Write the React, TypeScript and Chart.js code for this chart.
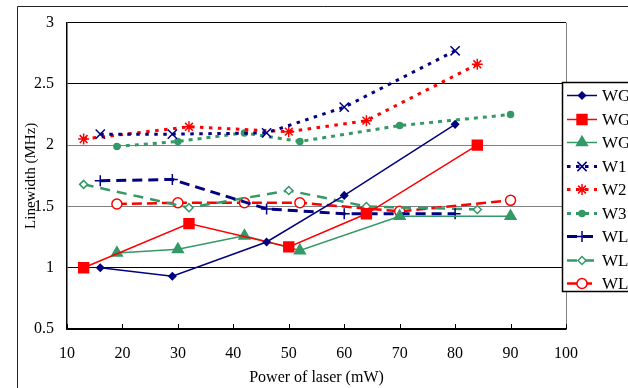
import React, { useEffect, useRef } from "react";
import { Chart, registerables } from "chart.js";
import { drawPoint } from "chart.js/helpers";

Chart.register(...registerables);

const xTicks = [10, 20, 30, 40, 50, 60, 70, 80, 90, 100];

const wg1X = [16, 29, 46, 60, 80];
const wg1Y = [1.0, 0.93, 1.21, 1.59, 2.17];
const wg2X = [13, 32, 50, 64, 84];
const wg2Y = [1.0, 1.36, 1.17, 1.44, 2.0];
const wg3X = [19, 30, 42, 52, 70, 90];
const wg3Y = [1.12, 1.15, 1.26, 1.14, 1.42, 1.42];
const w1X = [16, 29, 46, 60, 80];
const w1Y = [2.09, 2.09, 2.1, 2.31, 2.77];
const w2X = [13, 32, 50, 64, 84];
const w2Y = [2.05, 2.15, 2.11, 2.2, 2.66];
const w3X = [19, 30, 42, 52, 70, 90];
const w3Y = [1.99, 2.03, 2.1, 2.03, 2.16, 2.25];
const wl1X = [16, 29, 46, 60, 80];
const wl1Y = [1.71, 1.72, 1.48, 1.44, 1.44];
const wl2X = [13, 32, 50, 64, 84];
const wl2Y = [1.68, 1.49, 1.63, 1.5, 1.475];
const wl3X = [19, 30, 42, 52, 70, 90];
const wl3Y = [1.52, 1.53, 1.53, 1.53, 1.46, 1.55];

const NAVY = "#000080";
const RED = "#FF0000";
const GREEN = "#339966";
const FONT = "'Liberation Serif', 'Times New Roman', serif";

const pts = (xs: number[], ys: number[]) => xs.map((x, i) => ({ x, y: ys[i] }));

function ds(label: string, xs: number[], ys: number[], color: string, opts: any) {
  return {
    label,
    data: pts(xs, ys),
    borderColor: color,
    backgroundColor: color,
    pointBorderColor: color,
    pointBackgroundColor: opts.fill === false ? "#fff" : color,
    borderWidth: opts.width ?? 1.5,
    borderDash: opts.dash ?? [],
    pointStyle: opts.style,
    pointRadius: opts.r,
    pointBorderWidth: opts.pbw ?? 1.5,
    pointHoverRadius: opts.r,
    tension: 0,
    fill: false,
  };
}

const legendPlugin = {
  id: "customLegendFrame",
  afterDraw(chart: any) {
    const ctx = chart.ctx;
    const area = chart.chartArea;
    const xs = chart.scales.x;
    ctx.save();
    // right border
    ctx.strokeStyle = "#808080";
    ctx.lineWidth = 1;
    ctx.beginPath();
    ctx.moveTo(area.right + 0.5, area.top);
    ctx.lineTo(area.right + 0.5, area.bottom);
    ctx.stroke();
    // inward x ticks
    ctx.strokeStyle = "#000";
    ctx.beginPath();
    for (const v of xTicks) {
      const px = Math.round(xs.getPixelForValue(v)) + 0.5;
      ctx.moveTo(px, area.bottom);
      ctx.lineTo(px, area.bottom - 5);
    }
    ctx.stroke();
    // outer frame
    ctx.strokeStyle = "#222";
    ctx.beginPath();
    ctx.moveTo(17.5, 400);
    ctx.lineTo(17.5, 6.5);
    ctx.lineTo(640, 6.5);
    ctx.stroke();

    // legend box
    const bx = 562, by = 82, bw = 80, bh = 209;
    ctx.fillStyle = "#fff";
    ctx.fillRect(bx, by, bw, bh);
    ctx.strokeStyle = "#000";
    ctx.lineWidth = 1.5;
    ctx.strokeRect(bx + 0.5, by + 0.5, bw, bh);
    const step = 23.5;
    chart.data.datasets.forEach((d: any, i: number) => {
      const y = Math.round(by + 13 + i * step) + 0.5;
      ctx.save();
      ctx.strokeStyle = d.borderColor;
      ctx.lineWidth = d.borderWidth;
      ctx.setLineDash(d.borderDash || []);
      ctx.beginPath();
      ctx.moveTo(567, y);
      ctx.lineTo(597, y);
      ctx.stroke();
      ctx.restore();
      ctx.save();
      ctx.strokeStyle = d.pointBorderColor;
      ctx.fillStyle = d.pointBackgroundColor;
      ctx.lineWidth = d.pointBorderWidth;
      drawPoint(ctx, { pointStyle: d.pointStyle, radius: d.pointRadius, rotation: 0, borderWidth: d.pointBorderWidth }, 582, y);
      ctx.restore();
      ctx.fillStyle = "#000";
      ctx.font = `17px ${FONT}`;
      ctx.textBaseline = "middle";
      ctx.textAlign = "left";
      ctx.fillText(d.label, 602, y + 1);
    });
    ctx.restore();
  },
};

export default function App() {
  const ref = useRef<HTMLCanvasElement | null>(null);
  useEffect(() => {
    if (!ref.current) return;
    const chart = new Chart(ref.current, {
      type: "line",
      data: {
        datasets: [
          ds("WG1", wg1X, wg1Y, NAVY, { style: "rectRot", r: 3.5, width: 1.5 }),
          ds("WG2", wg2X, wg2Y, RED, { style: "rect", r: 7, width: 1.5 }),
          ds("WG3", wg3X, wg3Y, GREEN, { style: "triangle", r: 6.2, width: 1.5 }),
          ds("W1", w1X, w1Y, NAVY, { style: "crossRot", r: 6.5, width: 3, dash: [3.5, 5.5] }),
          ds("W2", w2X, w2Y, RED, { style: "star", r: 5.5, width: 3, dash: [3.5, 5.5] }),
          ds("W3", w3X, w3Y, GREEN, { style: "circle", r: 3, width: 3, dash: [4, 5] }),
          ds("WL1", wl1X, wl1Y, NAVY, { style: "cross", r: 5.5, width: 3, dash: [10, 6] }),
          ds("WL2", wl2X, wl2Y, GREEN, { style: "rectRot", r: 4, width: 2.5, dash: [10, 7], fill: false }),
          ds("WL3", wl3X, wl3Y, RED, { style: "circle", r: 5, width: 2.5, dash: [10, 5], fill: false }),
        ],
      },
      options: {
        animation: false,
        responsive: false,
        devicePixelRatio: 1,
        layout: { padding: { top: 22, right: 62, bottom: 0, left: 0 } },
        plugins: { legend: { display: false }, tooltip: { enabled: false } },
        scales: {
          x: {
            type: "linear",
            min: 10,
            max: 100,
            afterFit: (s: any) => { s.height = 59; },
            afterBuildTicks: (s: any) => { s.ticks = xTicks.map((v) => ({ value: v })); },
            ticks: { color: "#000", font: { family: FONT, size: 16 }, padding: 15, maxRotation: 0, autoSkip: false },
            grid: { drawOnChartArea: false, drawTicks: false },
            border: { color: "#000", width: 1.5 },
            title: { display: true, text: "Power of laser (mW)", color: "#000", font: { family: FONT, size: 16 }, padding: { top: 0, bottom: 1 } },
          },
          y: {
            min: 0.5,
            max: 3,
            afterFit: (s: any) => { s.width = 67; },
            ticks: { stepSize: 0.5, color: "#000", font: { family: FONT, size: 16 }, padding: 13, callback: (v: any) => String(v) },
            grid: {
              drawTicks: false,
              color: (c: any) => (c.tick && (c.tick.value === 2 || c.tick.value === 1.5) ? "#808080" : "#000"),
              lineWidth: 1,
            },
            border: { color: "#000", width: 1.5 },
            title: { display: true, text: "Linewidth (MHz)", color: "#000", font: { family: FONT, size: 15 }, padding: { top: 22, bottom: 0 } },
          },
        },
      },
      plugins: [legendPlugin],
    } as any);
    return () => chart.destroy();
  }, []);
  return (
    <div style={{ position: "fixed", left: 0, top: 0, width: 628, height: 388, background: "#fff", overflow: "hidden" }}>
      <canvas ref={ref} width={628} height={388} style={{ display: "block" }} />
    </div>
  );
}
